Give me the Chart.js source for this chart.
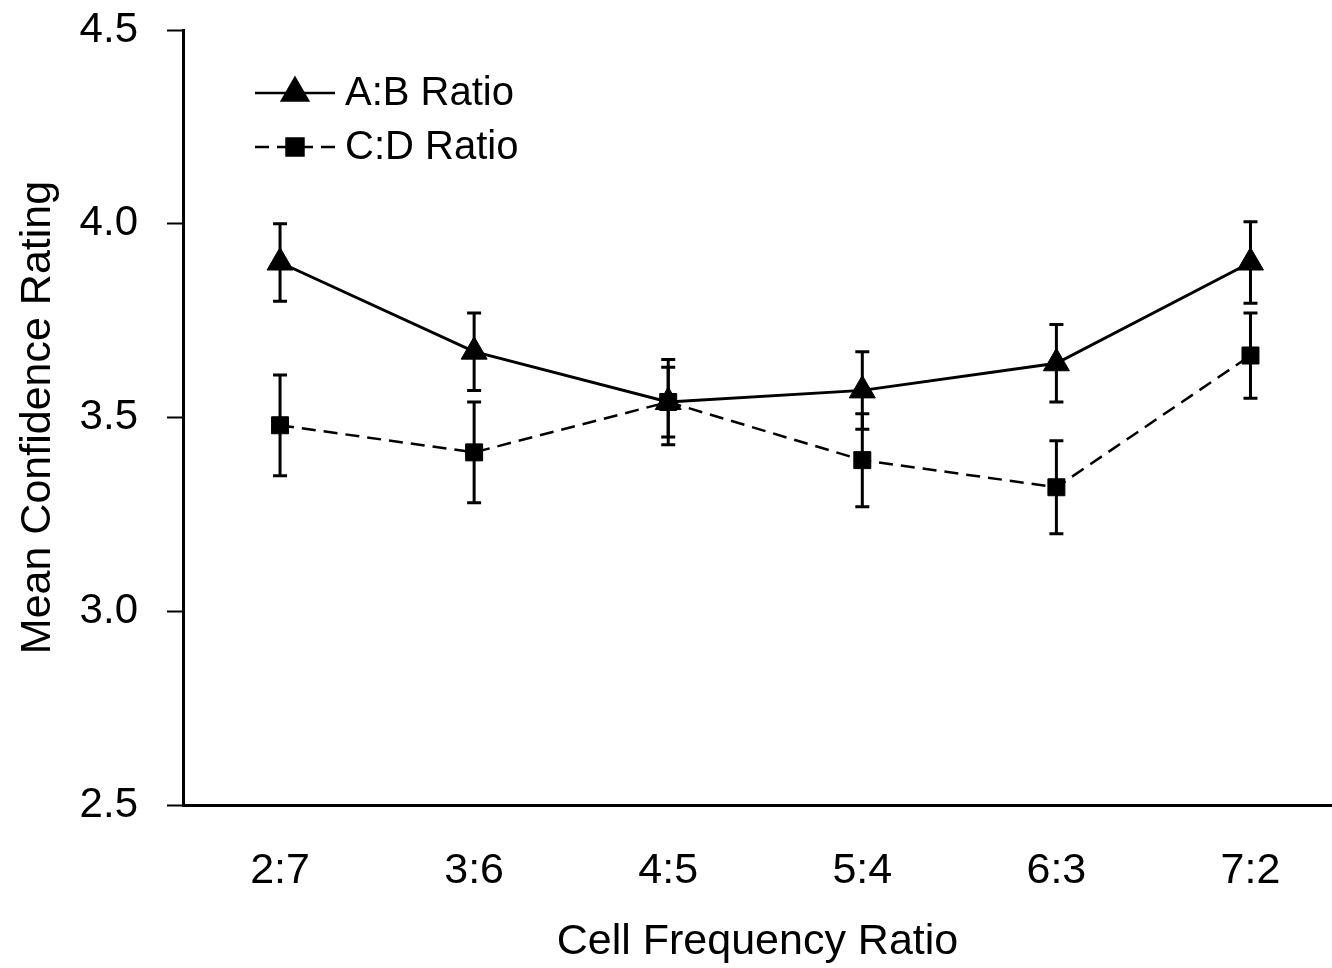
<!DOCTYPE html>
<html>
<head>
<meta charset="utf-8">
<script src="https://cdn.jsdelivr.net/npm/chart.js@4/dist/chart.umd.min.js"></script>
<style>
  html, body { margin: 0; padding: 0; background: #fff; overflow: hidden; }
  canvas { display: block; }
</style>
</head>
<body>
<canvas id="chart" width="1332" height="968"></canvas>
<script>
// data
const ratios = ['2:7', '3:6', '4:5', '5:4', '6:3', '7:2'];
const abMeans = [3.90, 3.67, 3.54, 3.57, 3.64, 3.90];
const abErrors = [0.10, 0.10, 0.11, 0.10, 0.10, 0.105];
const cdMeans = [3.48, 3.41, 3.54, 3.39, 3.32, 3.66];
const cdErrors = [0.13, 0.13, 0.09, 0.12, 0.12, 0.11];
const yTicks = [2.5, 3.0, 3.5, 4.0, 4.5];

const FONT = "'Liberation Sans', Arial, sans-serif";

// draws error bars from the dataset's err array, using the chart scales
const errorBars = {
    id: 'errorBars',
    beforeDatasetsDraw(chart) {
        const ctx = chart.ctx;
        const xs = chart.scales.x, ys = chart.scales.y;
        ctx.save();
        ctx.strokeStyle = '#000';
        ctx.lineWidth = 3;
        chart.data.datasets.forEach(ds => {
            ds.data.forEach((p, i) => {
                const e = ds.err[i];
                const x = xs.getPixelForValue(p.x);
                const top = ys.getPixelForValue(p.y + e);
                const bot = ys.getPixelForValue(p.y - e);
                ctx.beginPath();
                ctx.moveTo(x, top); ctx.lineTo(x, bot);
                ctx.moveTo(x - 7, top); ctx.lineTo(x + 7, top);
                ctx.moveTo(x - 7, bot); ctx.lineTo(x + 7, bot);
                ctx.stroke();
            });
        });
        ctx.restore();
    }
};

// legend drawn inside the plot, top left
const innerLegend = {
    id: 'innerLegend',
    afterDraw(chart) {
        const ctx = chart.ctx;
        ctx.save();
        chart.data.datasets.forEach((ds, i) => {
            const y = 93 + i * 54;
            ctx.strokeStyle = '#000';
            ctx.lineWidth = 2.5;
            ctx.setLineDash(ds.borderDash || []);
            ctx.beginPath();
            ctx.moveTo(255, y); ctx.lineTo(335, y);
            ctx.stroke();
            ctx.setLineDash([]);
            Chart.helpers.drawPoint(ctx, {
                pointStyle: ds.pointStyle,
                radius: ds.pointRadius,
                rotation: 0,
                borderWidth: 1
            }, 295, y);
            ctx.fillStyle = '#000';
            ctx.fill();
            ctx.font = '40px ' + FONT;
            ctx.textBaseline = 'middle';
            ctx.textAlign = 'left';
            ctx.fillText(ds.label, 345, y + 1);
        });
        ctx.restore();
    }
};

new Chart(document.getElementById('chart'), {
    type: 'line',
    data: {
        datasets: [{
            label: 'A:B Ratio',
            data: abMeans.map((v, i) => ({ x: i, y: v })),
            err: abErrors,
            borderColor: '#000',
            backgroundColor: '#000',
            borderWidth: 3,
            pointStyle: 'triangle',
            pointRadius: 15,
            pointBackgroundColor: '#000',
            pointBorderColor: '#000',
            pointBorderWidth: 1
        }, {
            label: 'C:D Ratio',
            data: cdMeans.map((v, i) => ({ x: i, y: v })),
            err: cdErrors,
            borderColor: '#000',
            backgroundColor: '#000',
            borderWidth: 2.5,
            borderDash: [14, 8],
            pointStyle: 'rect',
            pointRadius: 12,
            pointBackgroundColor: '#000',
            pointBorderColor: '#000',
            pointBorderWidth: 1
        }]
    },
    options: {
        responsive: false,
        animation: false,
        layout: { autoPadding: false, padding: { top: 30, right: 0, left: 0, bottom: 0 } },
        plugins: {
            legend: { display: false },
            tooltip: { enabled: false }
        },
        scales: {
            x: {
                type: 'linear',
                min: -0.5,
                max: 5.42,
                afterBuildTicks: axis => { axis.ticks = ratios.map((r, i) => ({ value: i })); },
                afterFit: scale => {
                    scale.height = 163;
                    scale.paddingLeft = 0;
                    scale.paddingRight = 0;
                },
                ticks: {
                    callback: v => ratios[v],
                    color: '#000',
                    font: { family: FONT, size: 43 },
                    padding: 0,
                    maxRotation: 0
                },
                // invisible tick marks push the labels down
                grid: {
                    display: true,
                    drawOnChartArea: false,
                    drawTicks: true,
                    tickLength: 40,
                    tickColor: 'rgba(0,0,0,0)'
                },
                border: { display: true, color: '#000', width: 3 },
                title: {
                    display: true,
                    text: 'Cell Frequency Ratio',
                    color: '#000',
                    font: { family: FONT, size: 43 },
                    padding: { top: 0, bottom: 0 }
                }
            },
            y: {
                min: 2.5,
                max: 4.5,
                afterBuildTicks: axis => { axis.ticks = yTicks.map(v => ({ value: v })); },
                afterFit: scale => {
                    scale.width = 183;
                    scale.paddingTop = 0;
                    scale.paddingBottom = 0;
                },
                ticks: {
                    callback: v => v.toFixed(1),
                    color: '#000',
                    font: { family: FONT, size: 42 },
                    padding: 29
                },
                grid: {
                    display: true,
                    drawOnChartArea: false,
                    drawTicks: true,
                    tickLength: 16,
                    tickColor: '#000',
                    tickWidth: 2
                },
                border: { display: true, color: '#000', width: 3 },
                title: {
                    display: true,
                    text: 'Mean Confidence Rating',
                    color: '#000',
                    font: { family: FONT, size: 43 },
                    padding: { top: 12, bottom: 0 }
                }
            }
        }
    },
    plugins: [errorBars, innerLegend]
});
</script>
</body>
</html>
